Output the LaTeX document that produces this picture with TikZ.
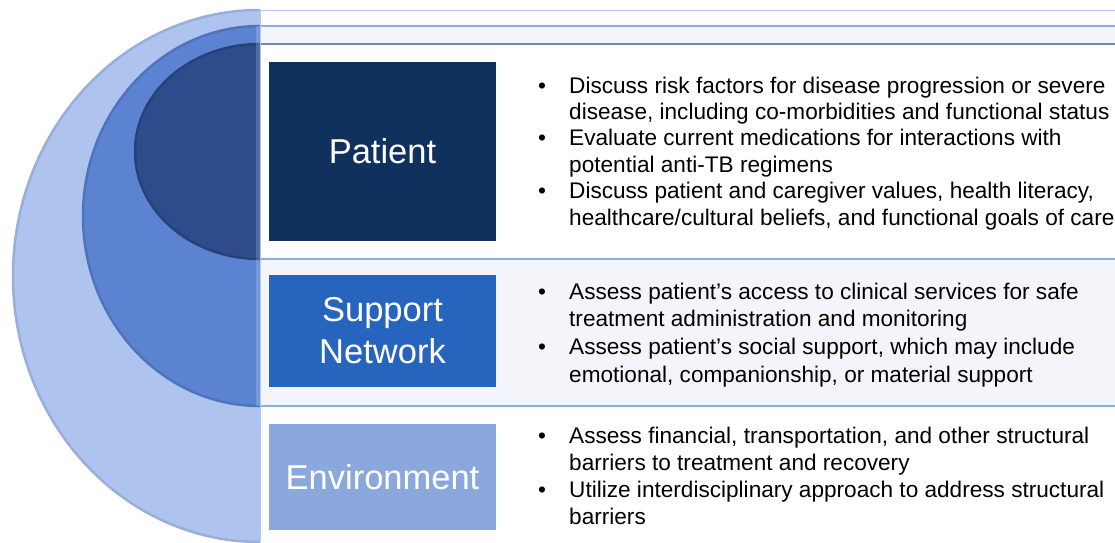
\documentclass[tikz,border=0pt]{standalone}
\usepackage{fontspec}
\setmainfont{Liberation Sans}
\definecolor{outerc}{HTML}{AFC3EF}
\definecolor{outerrim}{HTML}{9AAEDC}
\definecolor{midc}{HTML}{5B83D1}
\definecolor{midrim}{HTML}{4E74BE}
\definecolor{innc}{HTML}{2E4C8B}
\definecolor{innrim}{HTML}{27427A}
\definecolor{bandc}{HTML}{F4F5FB}
\definecolor{rulec}{HTML}{8FAADC}
\definecolor{vrulec}{HTML}{B4C7E7}
\definecolor{patientc}{HTML}{10305E}
\definecolor{supportc}{HTML}{2764BD}
\definecolor{envc}{HTML}{8BA8DC}
\tikzset{
  catbox/.style={inner sep=0pt, minimum width=227, text=white, align=center,
    font=\fontsize{34.5}{42}\selectfont},
  bullets/.style={inner sep=0pt, anchor=base west, align=left, text=black},
  rowrule/.style={draw=rulec, line width=1.2pt},
}
\begin{document}
\begin{tikzpicture}[x=1pt,y=-1pt]
\useasboundingbox (0,0) rectangle (1115,542);
\fill[white] (0,0) rectangle (1115,542);
% bands of the table
\fill[bandc] (260,26) rectangle (1115,44);
\fill[bandc] (260,259) rectangle (1115,406);
% half circles
\begin{scope}
  \clip (0,0) rectangle (260,542);
  \draw[fill=outerc, draw=outerrim, line width=2.5pt] (260,276) ellipse [x radius=247, y radius=266];
  \draw[fill=midc, draw=midrim, line width=2.5pt] (260,216) ellipse [x radius=177, y radius=190];
  \draw[fill=innc, draw=innrim, line width=2.5pt] (260,151.5) ellipse [x radius=125, y radius=107.5];
  \fill[white, opacity=0.18] (256,26) rectangle (260,406);
\end{scope}
% table rules
\coordinate (r0a) at (260,10);   \coordinate (r0b) at (1115,10);
\coordinate (r1a) at (260,26);   \coordinate (r1b) at (1115,26);
\coordinate (r2a) at (260,44);   \coordinate (r2b) at (1115,44);
\coordinate (r3a) at (260,259);  \coordinate (r3b) at (1115,259);
\coordinate (r4a) at (260,406);  \coordinate (r4b) at (1115,406);
\coordinate (vb) at (260,542);
\draw[draw=vrulec, line width=1pt] (r0a) -- (r0b);
\draw[rowrule] (r1a) -- (r1b);
\draw[rowrule, draw=rulec!80!black] (r2a) -- (r2b);
\draw[rowrule] (r3a) -- (r3b);
\draw[rowrule] (r4a) -- (r4b);
\draw[draw=vrulec, line width=1pt] (r0a) -- (vb);
% category boxes
\node[catbox, fill=patientc, minimum height=179] (patient) at (382.5,151.5) {Patient};
\node[catbox, fill=supportc, minimum height=112] (support) at (382.5,331) {Support\\Network};
\node[catbox, fill=envc, minimum height=106] (env) at (382.5,477) {Environment};
% bullet texts
\node[bullets] (ptext) at (538,93) {\fontsize{22.6}{26.4}\selectfont
\begin{tabular}[t]{@{}p{31pt}@{}l@{}}
•& Discuss risk factors for disease progression or severe\\
 & disease, including co-morbidities and functional status\\
•& Evaluate current medications for interactions with\\
 & potential anti-TB regimens\\
•& Discuss patient and caregiver values, health literacy,\\
 & healthcare/cultural beliefs, and functional goals of care
\end{tabular}};
\node[bullets] (stext) at (538,299) {\fontsize{22.6}{27.7}\selectfont
\begin{tabular}[t]{@{}p{31pt}@{}l@{}}
•& Assess patient’s access to clinical services for safe\\
 & treatment administration and monitoring\\
•& Assess patient’s social support, which may include\\
 & emotional, companionship, or material support
\end{tabular}};
\node[bullets] (etext) at (538,443) {\fontsize{22.6}{27.3}\selectfont
\begin{tabular}[t]{@{}p{31pt}@{}l@{}}
•& Assess financial, transportation, and other structural\\
 & barriers to treatment and recovery\\
•& Utilize interdisciplinary approach to address structural\\
 & barriers
\end{tabular}};
\end{tikzpicture}
\end{document}
